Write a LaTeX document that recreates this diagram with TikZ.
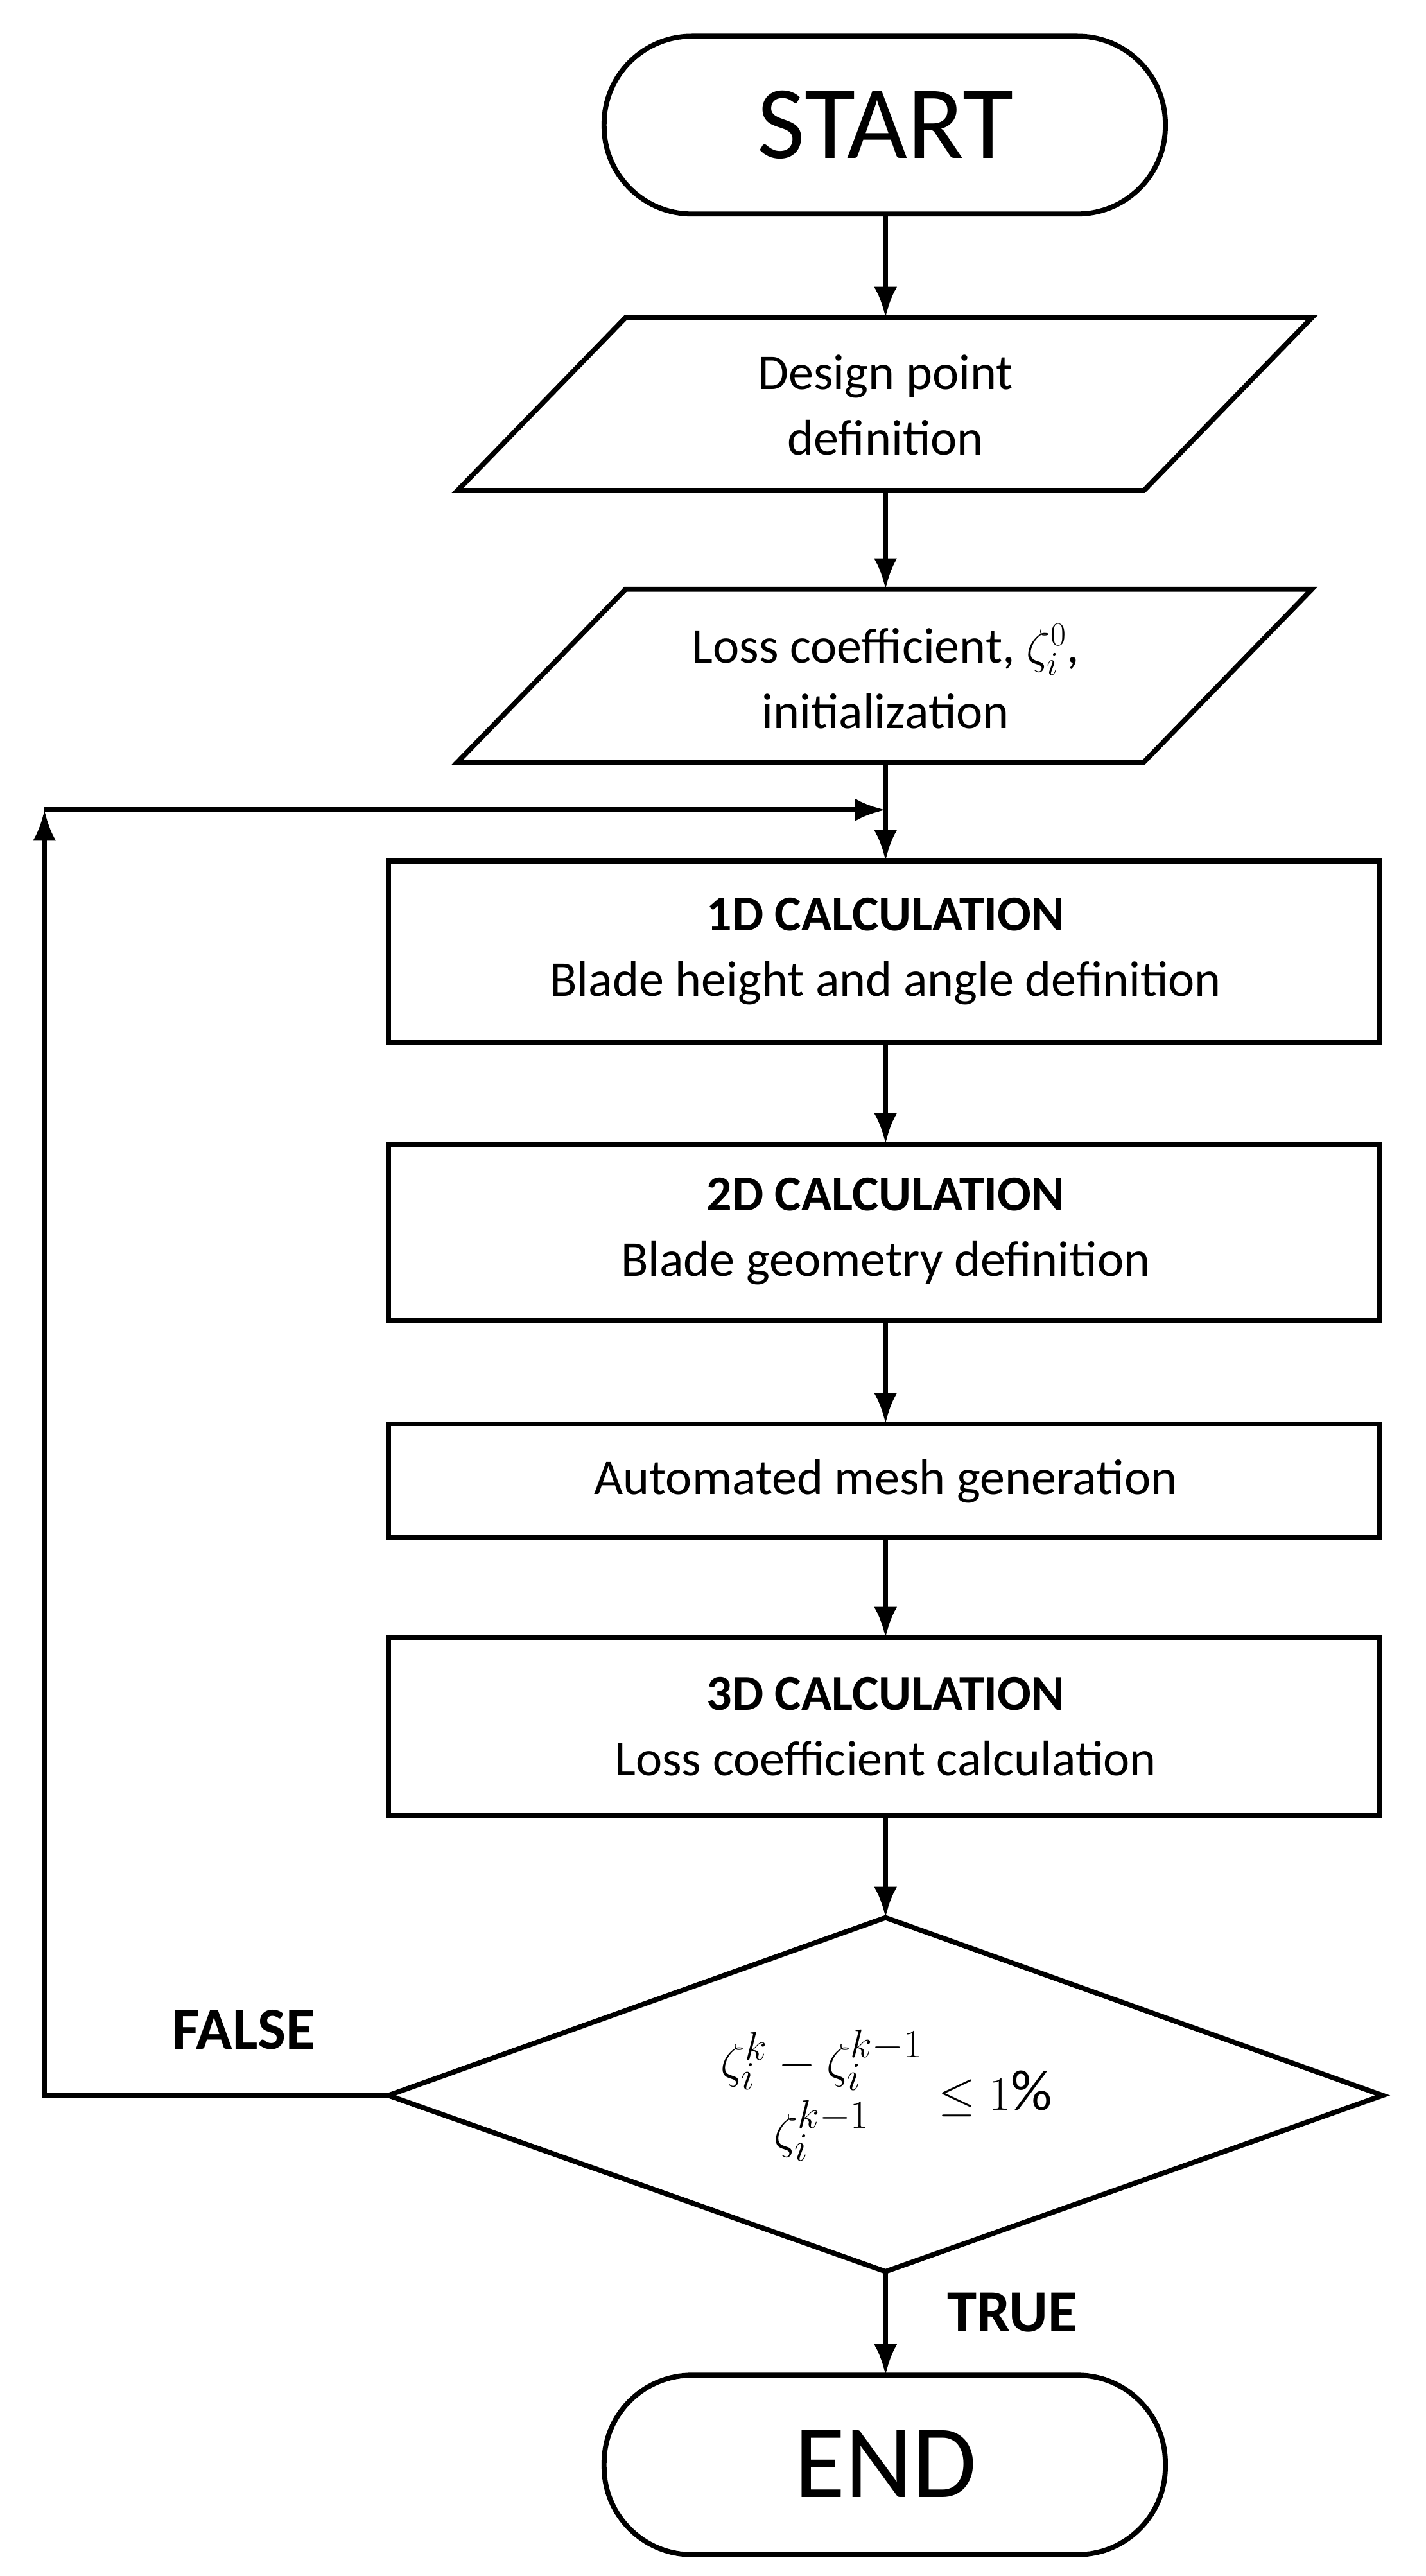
\documentclass[tikz,border=0pt]{standalone}
\usepackage{fontspec}
\setmainfont{Carlito}
\usetikzlibrary{arrows.meta}
\begin{document}
\begin{tikzpicture}[x=0.03cm,y=-0.03cm,line width=2.6pt,
  shp/.style={line width=2.6pt,line join=miter},
  arr/.style={-{Latex[length=16pt,width=12pt]}},
  txt/.style={font=\fontsize{26pt}{34pt}\selectfont,align=center},
  lbl/.style={font=\fontsize{31pt}{36pt}\selectfont\bfseries}]
\useasboundingbox (0,0) rectangle (866,1565);
% START
\draw[shp,rounded corners=1.6cm] (367,22) rectangle (708,130);
\node[font=\fontsize{54pt}{60pt}\selectfont] (start) at (538,76) {START};
\coordinate (startb) at (538,130);
% para1
\draw[shp] (380,193) -- (797,193) -- (695,298) -- (278,298) -- cycle;
\node[txt] (p1) at (538,246) {Design point\\definition};
\coordinate (p1t) at (538,193); \coordinate (p1b) at (538,298);
% para2
\draw[shp] (380,358) -- (797,358) -- (695,463) -- (278,463) -- cycle;
\node[txt] (p2) at (538,411) {Loss coefficient, $\zeta_i^0$,\\initialization};
\coordinate (p2t) at (538,358); \coordinate (p2b) at (538,463);
% boxes
\draw[shp] (236,523) rectangle (838,633);
\node[txt] (b1) at (538,578) {\textbf{1D CALCULATION}\\Blade height and angle definition};
\coordinate (b1t) at (538,523); \coordinate (b1b) at (538,633);
\draw[shp] (236,695) rectangle (838,802);
\node[txt] (b2) at (538,748) {\textbf{2D CALCULATION}\\Blade geometry definition};
\coordinate (b2t) at (538,695); \coordinate (b2b) at (538,802);
\draw[shp] (236,865) rectangle (838,934);
\node[txt] (b3) at (538,900) {Automated mesh generation};
\coordinate (b3t) at (538,865); \coordinate (b3b) at (538,934);
\draw[shp] (236,995) rectangle (838,1103);
\node[txt] (b4) at (538,1049) {\textbf{3D CALCULATION}\\Loss coefficient calculation};
\coordinate (b4t) at (538,995); \coordinate (b4b) at (538,1103);
% diamond
\draw[shp] (538,1165) -- (840,1273) -- (538,1380) -- (236,1273) -- cycle;
\node[font=\fontsize{30pt}{36pt}\selectfont] (d) at (538,1273) {$\displaystyle\frac{\zeta_i^k-\zeta_i^{k-1}}{\zeta_i^{k-1}}\leq 1\%$};
\coordinate (dt) at (538,1165); \coordinate (db) at (538,1380); \coordinate (dl) at (236,1273);
% END
\draw[shp,rounded corners=1.6cm] (367,1443) rectangle (708,1552);
\node[font=\fontsize{54pt}{60pt}\selectfont] (end) at (538,1497) {END};
\coordinate (endt) at (538,1443);
% connectors
\draw[arr] (startb) -- (p1t);
\draw[arr] (p1b) -- (p2t);
\draw[arr] (p2b) -- (b1t);
\draw[arr] (b1b) -- (b2t);
\draw[arr] (b2b) -- (b3t);
\draw[arr] (b3b) -- (b4t);
\draw[arr] (b4b) -- (dt);
\draw[arr] (db) -- (endt);
\coordinate (fl) at (27,1273); \coordinate (ft) at (27,492); \coordinate (fj) at (538,492);
\draw[arr] (dl) -- (fl) -- (ft);
\draw[arr] (ft) -- (fj);
\node[lbl] (false) at (148,1233) {FALSE};
\node[lbl] (true) at (615,1405) {TRUE};
\end{tikzpicture}
\end{document}
